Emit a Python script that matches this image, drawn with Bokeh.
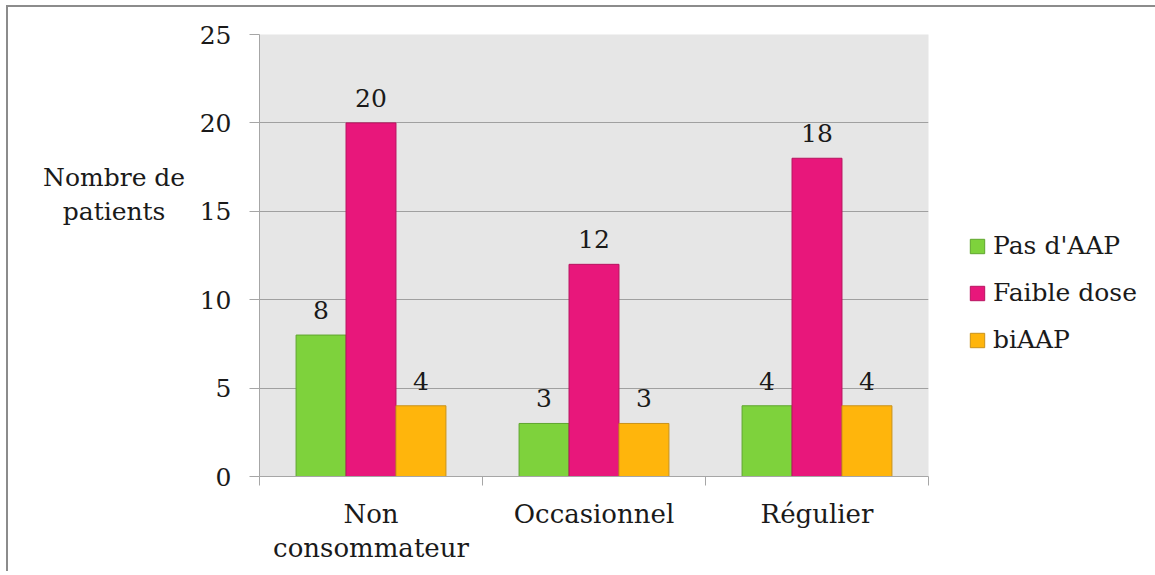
from bokeh.plotting import figure
from bokeh.models import (ColumnDataSource, FixedTicker, LinearAxis, Range1d,
                          Legend, LegendItem, LabelSet, Label)
from bokeh.transform import dodge
from bokeh.core.properties import value
from bokeh.embed import file_html
from bokeh.resources import INLINE

categories = ["Non consommateur", "Occasionnel", "Régulier"]
category_labels = ["Non\nconsommateur", "Occasionnel", "Régulier"]
series = ["Pas d'AAP", "Faible dose", "biAAP"]
pas_aap = [8, 3, 4]
faible_dose = [20, 12, 18]
biaap = [4, 3, 4]
y_ticks = [0, 5, 10, 15, 20, 25]
y_label = "Nombre de\npatients"

fills = ["#7ed23c", "#e8177b", "#ffb50c"]
lines = ["#5fa52e", "#b8135f", "#c9921a"]
FONT = "DejaVu Serif"
TXT = "#1a1a1a"

centers = [i + 0.5 for i in range(len(categories))]
bounds = list(range(len(categories) + 1))
src = ColumnDataSource(dict(
    x=centers, pas=pas_aap, faible=faible_dose, bi=biaap,
    pas_t=[str(v) for v in pas_aap], faible_t=[str(v) for v in faible_dose],
    bi_t=[str(v) for v in biaap],
))

p = figure(frame_width=669, frame_height=442,
           x_range=Range1d(0, len(categories)), y_range=Range1d(0, 25),
           output_backend="svg", toolbar_location=None,
           min_border_left=251, min_border_top=27, min_border_bottom=95,
           min_border_right=222, x_axis_type=None,
           background_fill_color="#e6e6e6", outline_line_color=None,
           border_fill_color="white")
p.styles = {"border-top": "2px solid #8c8c8c", "border-left": "2px solid #8c8c8c",
            "margin-left": "6px", "margin-top": "5px"}

# y axis
p.yaxis.ticker = FixedTicker(ticks=y_ticks)
p.yaxis.axis_line_color = "#a6a6a6"
p.yaxis.major_tick_line_color = "#a6a6a6"
p.yaxis.major_tick_out = 10
p.yaxis.major_tick_in = 0
p.yaxis.minor_tick_line_color = None
p.yaxis.major_label_text_font = FONT
p.yaxis.major_label_text_font_size = "25px"
p.yaxis.major_label_text_color = TXT
p.yaxis.major_label_standoff = 18
p.ygrid.ticker = FixedTicker(ticks=y_ticks)
p.ygrid.grid_line_color = "#a0a0a0"
p.ygrid.grid_line_width = 1

# x axis: labels at category centres, tick marks at category boundaries
xaxis = LinearAxis(ticker=FixedTicker(ticks=centers, minor_ticks=bounds),
                   major_label_overrides={c: l for c, l in zip(centers, category_labels)},
                   axis_line_color="#a6a6a6", major_tick_line_color=None,
                   major_tick_out=0, major_tick_in=0,
                   minor_tick_line_color="#a6a6a6", minor_tick_out=9, minor_tick_in=0,
                   major_label_text_font=FONT, major_label_text_font_size="26px",
                   major_label_text_color=TXT, major_label_standoff=13,
                   major_label_text_line_height=1.14)
p.add_layout(xaxis, "below")

bw = 0.224
offs = [-bw, 0.0, bw]
fields = ["pas", "faible", "bi"]
items = []
for name, f, o, fc, lc in zip(series, fields, offs, fills, lines):
    r = p.vbar(x=dodge("x", o, range=p.x_range), top=f, width=bw, bottom=0,
               source=src, fill_color=fc, line_color=lc, line_width=1)
    items.append(LegendItem(label=name, renderers=[r]))
    p.add_layout(LabelSet(x=dodge("x", o, range=p.x_range), y=f, text=f + "_t",
                          source=src, text_align="center", text_baseline="alphabetic",
                          y_offset=16, text_font=value(FONT), text_font_size="25px",
                          text_color=TXT))

legend = Legend(items=items, location=(40, 113), orientation="vertical",
                glyph_width=18, glyph_height=18, label_height=47, spacing=0,
                padding=0, margin=0, label_standoff=7,
                border_line_color=None, background_fill_alpha=0,
                label_text_font=FONT, label_text_font_size="25px",
                label_text_color=TXT)
p.add_layout(legend, "right")

p.add_layout(Label(x=-0.652, y=15.95, text=y_label, text_align="center",
                   text_baseline="middle", text_font=FONT,
                   text_font_size="25px", text_color=TXT, text_line_height=1.17),
             "left")

open("out.html", "w").write(file_html(p, INLINE))
